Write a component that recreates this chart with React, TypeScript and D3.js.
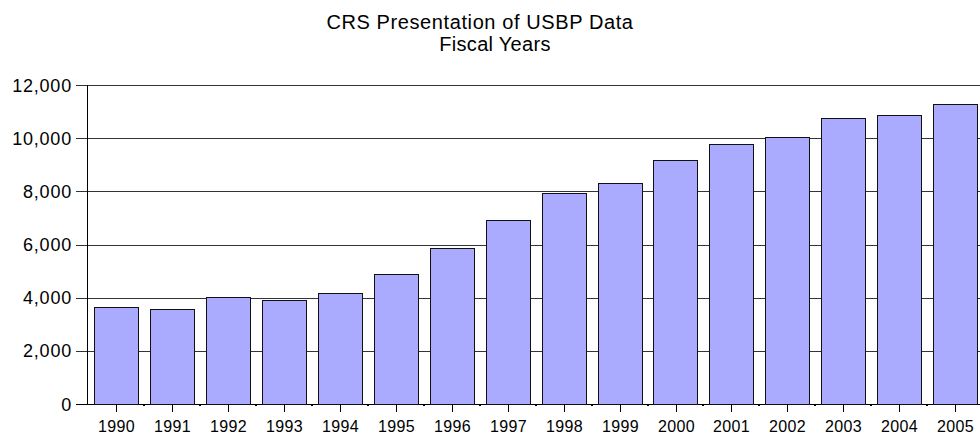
import React from "react";
import * as d3 from "d3";

const years = [
  "1990", "1991", "1992", "1993", "1994", "1995", "1996", "1997",
  "1998", "1999", "2000", "2001", "2002", "2003", "2004", "2005",
];
const agents = [
  3660, 3560, 4010, 3930, 4170, 4880, 5870, 6910,
  7950, 8300, 9180, 9790, 10050, 10750, 10860, 11280,
];
const yTicks = [0, 2000, 4000, 6000, 8000, 10000, 12000];
const titleLines = ["CRS Presentation of USBP Data", "Fiscal Years"];

const W = 980;
const H = 436;
const FONT = "Liberation Sans, Arial, sans-serif";

const App = () => {
  const x = d3
    .scaleBand<string>()
    .domain(years)
    .range([88.5, 983])
    .paddingInner(0.21)
    .paddingOuter(0.105);

  const y = d3.scaleLinear().domain([0, 12000]).range([404, 85]);
  const fmt = d3.format(",");
  const axisX = 87;

  return (
    <svg
      width={W}
      height={H}
      style={{ position: "absolute", left: 0, top: 0, background: "#fff" }}
      fontFamily={FONT}
    >
      <text x={480} y={29} textAnchor="middle" fontSize={20} letterSpacing={0.6}>
        {titleLines[0]}
      </text>
      <text x={495} y={51} textAnchor="middle" fontSize={20} letterSpacing={0.3}>
        {titleLines[1]}
      </text>

      {/* gridlines + y ticks */}
      {yTicks.map(t => (
        <g key={t}>
          <line
            x1={76}
            x2={W}
            y1={Math.round(y(t)) + 0.5}
            y2={Math.round(y(t)) + 0.5}
            stroke={t === 0 ? "#000" : "#333"}
            strokeWidth={1}
          />
          <text
            x={72}
            y={y(t) + 6.5}
            textAnchor="end"
            fontSize={18}
            letterSpacing={0.8}
          >
            {fmt(t)}
          </text>
        </g>
      ))}

      {/* bars */}
      {years.map((yr, i) => (
        <rect
          key={yr}
          x={Math.round(x(yr)!) + 0.5}
          y={Math.round(y(agents[i])) + 0.5}
          width={Math.round(x.bandwidth())}
          height={Math.round(y(0) - y(agents[i]))}
          fill="#aaaaff"
          stroke="#111"
          strokeWidth={1}
        />
      ))}

      {/* y axis line */}
      <line x1={axisX + 0.5} x2={axisX + 0.5} y1={85} y2={404} stroke="#000" />

      {/* x ticks and labels */}
      {years.map(yr => {
        const cx = Math.round(x(yr)! + x.bandwidth() / 2) + 0.5;
        const edge = Math.round(x(yr)! + x.bandwidth() + (x.step() - x.bandwidth()) / 2);
        return (
          <g key={yr}>
            <line x1={cx} x2={cx} y1={404} y2={412} stroke="#000" />
            <rect x={edge - 1} y={404} width={2} height={2} fill="#000" />
            <text x={cx} y={432} textAnchor="middle" fontSize={16} letterSpacing={0.3}>
              {yr}
            </text>
          </g>
        );
      })}
    </svg>
  );
};

export default App;
